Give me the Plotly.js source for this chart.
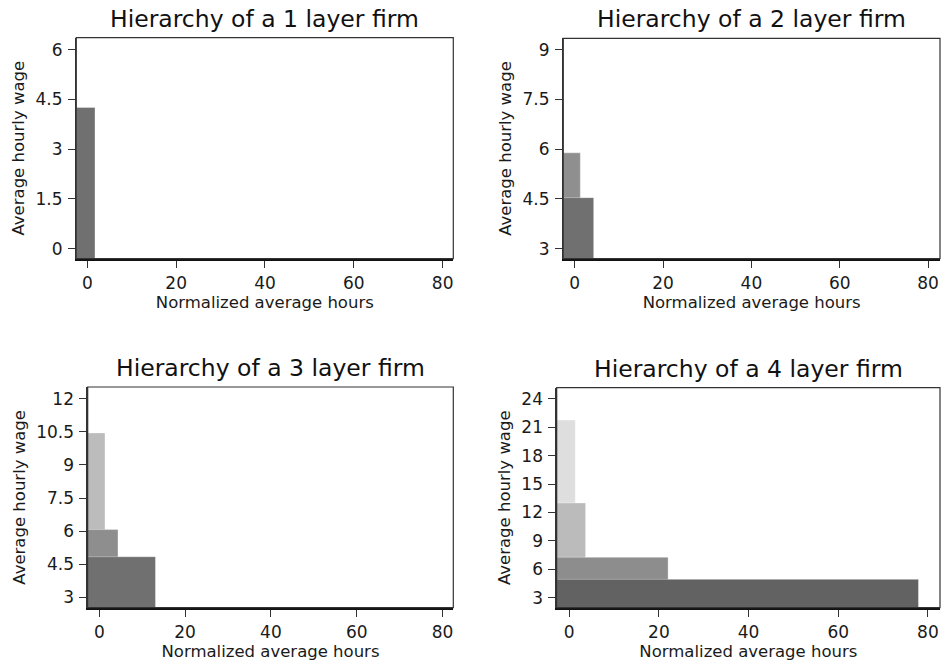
<!DOCTYPE html>
<html><head><meta charset="utf-8">
<script src="https://cdn.plot.ly/plotly-3.0.1.min.js"></script>
<style>html,body{margin:0;padding:0;background:#fff}#chart{width:941px;height:664px}</style>
</head><body><div id="chart"></div>
<script>
// ---- data (layers ordered from top of hierarchy to bottom) ----
const titles = ["Hierarchy of a 1 layer firm", "Hierarchy of a 2 layer firm",
                "Hierarchy of a 3 layer firm", "Hierarchy of a 4 layer firm"];
const hours1 = [1.73];
const wages1 = [4.26];
const hours2 = [1.27, 4.3];
const wages2 = [5.89, 4.54];
const hours3 = [1.33, 4.36, 13.1];
const wages3 = [10.45, 6.07, 4.84];
const hours4 = [1.34, 3.65, 22.05, 77.9];
const wages4 = [21.75, 13.0, 7.27, 4.94];
const xTitle = "Normalized average hours";
const yTitle = "Average hourly wage";

// ---- styling ----
const colors1 = ["#707070"];
const colors2 = ["#8f8f8f", "#707070"];
const colors3 = ["#bcbcbc", "#8e8e8e", "#707070"];
const colors4 = ["#dedede", "#bbbbbb", "#8d8d8d", "#626262"];
const xRanges = [[-2.48, 82.4], [-2.58, 82.7], [-2.7, 82.5], [-2.8, 82.7]];
const yRanges = [[-0.30, 6.36], [2.70, 9.34], [2.53, 12.53], [1.95, 25.16]];
const yDtick = [1.5, 1.5, 1.5, 3];
const W = 941, H = 664;
const boxes = [ // left, right, top, bottom in px
  [76.3, 453.3, 37.7, 258.7],
  [563.3, 940, 38.3, 258.7],
  [87.7, 453.3, 387, 607.7],
  [556.7, 940, 387.7, 607.7]
];

const FONT = "DejaVu Sans, Arial, sans-serif";
const TXT = "#1a1a1a";
const panels = [[hours1, wages1, colors1], [hours2, wages2, colors2],
                [hours3, wages3, colors3], [hours4, wages4, colors4]];

const data = [];
const layout = {
  width: W, height: H, margin: {l: 0, r: 0, t: 0, b: 0},
  paper_bgcolor: "#fff", plot_bgcolor: "#fff",
  showlegend: false, barmode: "overlay", bargap: 0,
  font: {family: FONT, color: TXT},
  annotations: [], shapes: []
};

panels.forEach((p, i) => {
  const [hrs, wgs, cols] = p;
  const xr = xRanges[i], yr = yRanges[i];
  const n = i + 1;
  const xa = n === 1 ? "x" : "x" + n, ya = n === 1 ? "y" : "y" + n;
  data.push({
    type: "bar", xaxis: xa, yaxis: ya,
    x: hrs.map(h => (xr[0] + h) / 2),
    width: hrs.map(h => h - xr[0]),
    base: wgs.map(() => yr[0]),
    y: wgs.map(w => w - yr[0]),
    marker: {color: cols, line: {color: "rgba(255,255,255,0.35)", width: 1}},
    hoverinfo: "skip"
  });
  const b = boxes[i];
  const xKey = n === 1 ? "xaxis" : "xaxis" + n;
  const yKey = n === 1 ? "yaxis" : "yaxis" + n;
  layout[xKey] = {
    domain: [b[0] / W, b[1] / W], anchor: ya, range: xr,
    tick0: 0, dtick: 20, ticks: "outside", ticklen: 7, tickwidth: 1, tickcolor: "#333",
    showline: true, linewidth: 2.5, linecolor: "#111", showgrid: false, zeroline: false,
    tickfont: {family: FONT, size: 17, color: TXT}, ticklabelstandoff: 0,
    title: {text: xTitle, font: {family: FONT, size: 16.5, color: TXT}, standoff: 0}
  };
  layout[yKey] = {
    domain: [1 - b[3] / H, 1 - b[2] / H], anchor: xa, range: yr,
    tick0: 0, dtick: yDtick[i], ticks: "outside", ticklen: 7, tickwidth: 1, tickcolor: "#333",
    showline: true, linewidth: 1.3, linecolor: "#333", showgrid: false, zeroline: false,
    tickfont: {family: FONT, size: 17, color: TXT}, ticklabelstandoff: 2,
    title: {text: yTitle, font: {family: FONT, size: 16.5, color: TXT}, standoff: 6}
  };
  layout.shapes.push({type: "rect", xref: xa + " domain", yref: ya + " domain",
    x0: 0, x1: 1, y0: 0, y1: 1, line: {color: "#333", width: 1.2}, layer: "above"});
  layout.annotations.push({
    text: titles[i], xref: xa + " domain", yref: ya + " domain", x: 0.5, y: 1,
    xanchor: "center", yanchor: "bottom", yshift: 3, showarrow: false,
    font: {family: FONT, size: 23.5, color: "#111"}
  });
});

Plotly.newPlot("chart", data, layout, {staticPlot: true, displayModeBar: false});
</script></body></html>
